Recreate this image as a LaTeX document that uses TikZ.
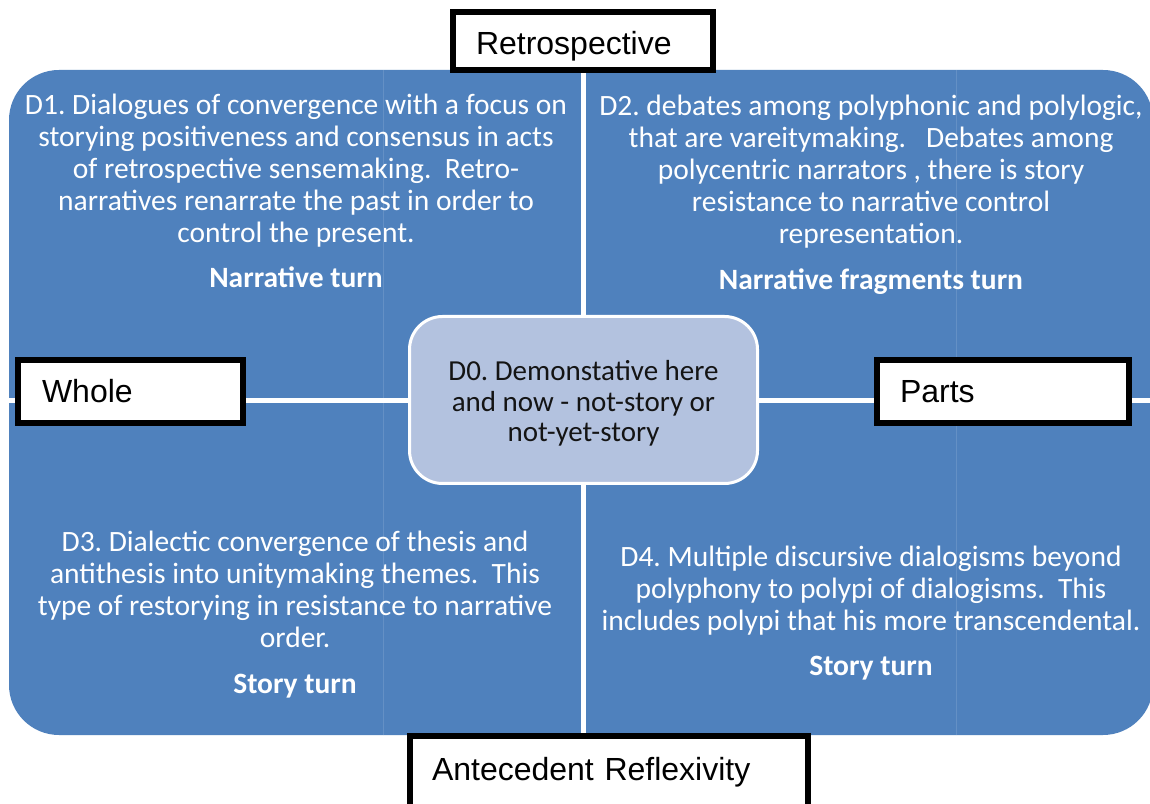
\documentclass[tikz,border=0pt]{standalone}
\usepackage{fontspec}
\newfontfamily\calib{Carlito}
\newfontfamily\arialf{Liberation Sans}
\definecolor{qblue}{HTML}{4F81BD}
\definecolor{cblue}{HTML}{B3C2DF}
\begin{document}
\begin{tikzpicture}[x=1pt,y=1pt,
 quadtext/.style={align=center, text=white, font=\calib\fontsize{29.5}{32}\selectfont, inner sep=0pt, anchor=north},
 centerbox/.style={draw=white, line width=3pt, fill=cblue, rounded corners=33pt, minimum width=348pt, minimum height=167pt, align=center, text=black!92, font=\calib\fontsize{29}{30.5}\selectfont, inner sep=0pt},
 lab/.style={draw=black, line width=6pt, fill=white, font=\arialf\fontsize{32}{38}\selectfont, align=left, inner ysep=0pt, text height=23pt, text depth=0pt},
 gapline/.style={white, line width=5pt},
 seam/.style={qblue!88!white, line width=0.8pt}]
\useasboundingbox (0,0) rectangle (1150,803);
\clip (0,0) rectangle (1150,803);
\fill[white] (0,0) rectangle (1150,803);
\fill[qblue, rounded corners=50pt] (9,68) rectangle (1153,733);
\draw[seam] (383,68) -- (383,733);
\draw[seam] (956,68) -- (956,733);
\draw[gapline] (583.5,60) -- (583.5,740);
\draw[gapline] (0,402) -- (1150,402);
\node[centerbox] (d0) at (583.5,403) {\rule{0pt}{27pt}D0.\ Demonstative here\\ and now - not-story or\\ not-yet-story};
\node[quadtext] (d1) at (296,711) {\rule{0pt}{22pt}D1.\ Dialogues of convergence with a focus on\\ storying positiveness and consensus in acts\\ of retrospective sensemaking.\ \ Retro-\\ narratives renarrate the past in order to\\ control the present.\\[13.5pt] \textbf{Narrative turn}};
\node[quadtext] (d2) at (871,709.5) {\rule{0pt}{22pt}D2.\ debates among polyphonic and polylogic,\\ that are vareitymaking.\ \ \ Debates among\\ polycentric narrators , there is story\\ resistance to narrative control\\ representation.\\[13.5pt] \textbf{Narrative fragments turn}};
\node[quadtext] (d3) at (295,274) {\rule{0pt}{22pt}D3.\ Dialectic convergence of thesis and\\ antithesis into unitymaking themes.\ \ This\\ type of restorying in resistance to narrative\\ order.\\[14pt] \textbf{Story turn}};
\node[quadtext] (d4) at (871,258.5) {\rule{0pt}{22pt}D4.\ Multiple discursive dialogisms beyond\\ polyphony to polypi of dialogisms.\ \ This\\ includes polypi that his more transcendental.\\[13pt] \textbf{Story turn}};
\node[lab, inner xsep=23pt, text width=214pt, minimum height=58pt, text height=28pt] (retro) at (583,762) {Retrospective};
\node[lab, inner xsep=24pt, text width=177pt, minimum height=63pt] (whole) at (130.5,411.5) {Whole};
\node[lab, inner xsep=23pt, text width=206pt, minimum height=63pt] (parts) at (1003,411.5) {Parts};
\node[lab, inner xsep=22pt, text width=354pt, minimum height=87pt, text depth=22pt] (ante) at (609,23.5) {Antecedent Reflexivity};
\end{tikzpicture}
\end{document}
